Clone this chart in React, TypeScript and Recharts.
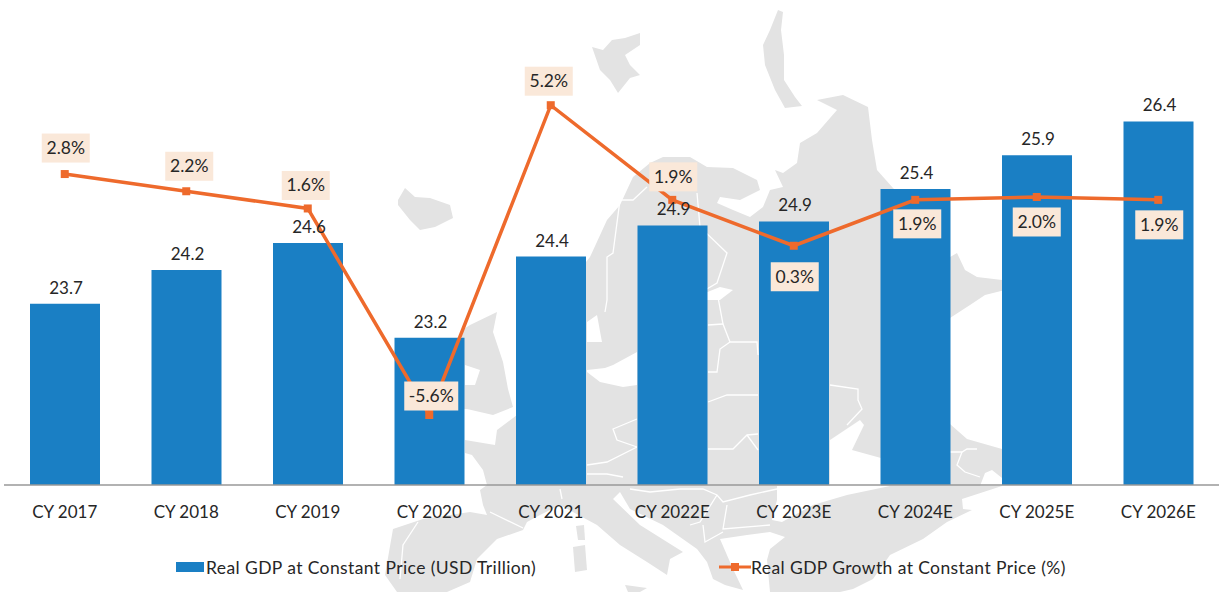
import { Bar, ComposedChart, LabelList, Legend, Line, XAxis, YAxis } from "recharts";

const years = ["CY 2017", "CY 2018", "CY 2019", "CY 2020", "CY 2021", "CY 2022E", "CY 2023E", "CY 2024E", "CY 2025E", "CY 2026E"];
const gdp = [23.7, 24.2, 24.6, 23.2, 24.4, 24.86, 24.92, 25.4, 25.9, 26.4];
const growth = [2.8, 2.2, 1.6, -5.6, 5.2, 1.9, 0.3, 1.9, 2.0, 1.9];

// where each growth label box sits relative to its point
const labelShiftY = [-26, -25, -23, -19, -24, -23, 31, 24, 25, 25];
const labelShiftX = [1, 3, -2, 2, -2, 1, 1, 2, 0, 1];

const rows = years.map((year, i) => ({ year, gdp: gdp[i], growth: growth[i] }));

const BLUE = "#1a7fc4";
const ORANGE = "#ee6a2c";
const TEXT = "#262626";
const FONT = "Lato, sans-serif";
const MAP = "#e3e3e3";

// background map, traced by eye
const land = [
  "560,300 586,262 590,257 607,220 620,205 633,177 650,163 663,157 690,157 707,167 733,168 757,180 760,190 740,200 720,197 717,203 733,210 750,217 763,207 770,190 783,187 775,170 783,173 797,163 800,143 817,133 837,110 817,100 843,95 868,107 872,140 877,170 893,188 905,200 945,260 957,253 965,270 977,277 1002,280 1005,290 985,295 970,305 950,318 940,330 940,420 950,424 967,439 1002,449 1002,486 962,499 963,509 972,510 947,522 923,539 890,555 873,579 853,589 840,592 770,592 767,560 770,549 785,537 770,532 747,535 720,539 733,569 743,590 725,585 713,579 707,562 697,549 663,525 630,509 620,492 613,499 640,525 683,552 670,559 667,575 647,562 620,545 597,525 560,505 540,515 527,522 523,530 497,539 477,559 470,582 447,592 397,592 385,575 393,529 423,519 470,512 487,515 483,505 480,490 487,485 483,470 472,455 465,453 465,440 495,445 497,430 517,415 520,300",
  "467,409 493,415 513,407 508,389 503,362 493,332 497,312 470,325 462,330 462,409",
  "398,200 405,188 415,197 430,198 450,205 453,218 435,227 420,230 410,220 398,205",
  "592,47 603,50 612,40 625,38 640,33 640,45 625,55 630,65 640,75 630,78 618,93 610,80 600,70",
  "778,10 783,12 781,30 784,55 784,80 795,97 802,106 785,108 775,90 765,65 763,45 770,30",
  "573,547 585,545 587,570 575,572",
  "576,526 584,525 585,540 578,540",
  "625,585 647,588 640,592 628,592",
];
const seas = [
  "587,322 597,315 602,342 587,342",
  "587,370 605,368 613,365 637,352 637,385 623,387 600,382 587,372",
  "700,295 720,287 733,290 720,300 707,300",
  "830,440 860,420 864,425 852,450 881,458 881,486 830,486",
  "777,486 890,486 847,495 813,505 782,522 772,520 777,500",
  "980,486 985,473 992,470 1002,478 1002,486",
  "465,365 480,370 475,385 465,385",
];
const borders = [
  "647,187 633,200 620,200 613,253 607,257 607,300 605,312",
  "697,193 700,227 727,253 717,283 700,293",
  "637,419 613,429 617,440 637,447",
  "587,465 607,462 637,447",
  "587,474 607,474 623,477",
  "717,292 723,324 730,342 757,342 758,355",
  "708,325 723,324",
  "730,342 720,349 717,372 708,372",
  "708,402 727,395 758,395",
  "708,449 733,449 747,435 758,434",
  "747,435 758,450",
  "830,385 858,389 858,400 862,409 847,425",
  "950,452 962,452 967,449 977,449",
  "962,452 957,465 965,472 980,477",
  "630,489 650,492 680,489 703,489 717,495 723,502 750,495 777,489",
  "690,525 700,522 717,495",
  "727,505 723,529 770,525",
  "703,525 705,542 723,532",
  "560,489 562,499",
  "490,512 523,528",
  "418,522 403,545 400,579",
];

function MapBackground() {
  return (
    <svg width={1225} height={592} style={{ position: "absolute", left: 0, top: 0, filter: "blur(0.6px)" }}>
      {land.map((p, i) => <polygon key={i} points={p} fill={MAP} />)}
      {seas.map((p, i) => <polygon key={i} points={p} fill="#fff" />)}
      {borders.map((p, i) => <polyline key={i} points={p} fill="none" stroke="#fff" strokeWidth={1.3} />)}
    </svg>
  );
}

function SquareDot({ cx, cy, index }: any) {
  return <rect key={index} x={cx - 4} y={cy - 4} width={8} height={8} fill={ORANGE} />;
}

function GrowthLabel({ x, y, value, index }: any) {
  const text = `${value.toFixed(1)}%`;
  const w = value < 0 ? 54 : 48;
  const cx = x + labelShiftX[index];
  const cy = y + labelShiftY[index];
  return (
    <g>
      <rect x={cx - w / 2} y={cy - 14.5} width={w} height={29} fill="#fae8d9" />
      <text x={cx} y={cy + 6} textAnchor="middle" fontSize={17.5} fontFamily={FONT} fill={TEXT}>{text}</text>
    </g>
  );
}

function GdpLabel({ x, y, width, value }: any) {
  return (
    <text x={x + width / 2 + 1} y={y - 10} textAnchor="middle" fontSize={17} fontFamily={FONT} fill={TEXT}>
      {value.toFixed(1)}
    </text>
  );
}

function LegendRow({ payload }: any) {
  const lefts = [172, 715];
  return (
    <div style={{ position: "relative", width: 1225, height: 30, top: -6, fontFamily: FONT, fontSize: 17.5, letterSpacing: 0.4, color: TEXT }}>
      {(payload ?? []).map((item: any, i: number) => (
        <div key={item.value} style={{ position: "absolute", left: lefts[i], top: 0, display: "flex", alignItems: "center", height: 22, whiteSpace: "nowrap" }}>
          {i === 0 ? (
            <svg width={30} height={10}><rect width={28} height={10} fill={BLUE} /></svg>
          ) : (
            <svg width={32} height={10}>
              <rect y={3.5} width={32} height={3} fill={ORANGE} />
              <rect x={12} y={1} width={8} height={8} fill={ORANGE} />
            </svg>
          )}
          <span>{item.value}</span>
        </div>
      ))}
    </div>
  );
}

export default function App() {
  return (
    <div style={{ position: "absolute", left: 0, top: 0, width: 1225, height: 592, background: "#fff", overflow: "hidden" }}>
      <MapBackground />
      <ComposedChart
        width={1225}
        height={592}
        data={rows}
        margin={{ top: 20, right: 6, bottom: 0, left: 4 }}
        style={{ position: "absolute", left: 0, top: 0 }}
      >
        <XAxis
          dataKey="year"
          height={77}
          tickLine={false}
          axisLine={{ stroke: "#999999", strokeWidth: 1.5 }}
          tick={{ fontSize: 17, fontFamily: FONT, fill: TEXT }}
          tickMargin={15}
          interval={0}
        />
        <YAxis yAxisId="gdp" hide domain={[21.02, 27.9]} />
        <YAxis yAxisId="growth" hide orientation="right" domain={[-8.04, 8.17]} />
        <Legend verticalAlign="bottom" height={30} itemSorter={null as any} content={<LegendRow />} />
        <Bar yAxisId="gdp" dataKey="gdp" name="Real GDP at Constant Price (USD Trillion)" fill={BLUE} barSize={70} isAnimationActive={false}>
          <LabelList dataKey="gdp" content={<GdpLabel />} />
        </Bar>
        <Line
          yAxisId="growth"
          dataKey="growth"
          name="Real GDP Growth at Constant Price (%)"
          stroke={ORANGE}
          strokeWidth={3.5}
          dot={<SquareDot />}
          activeDot={false}
          isAnimationActive={false}
        >
          <LabelList dataKey="growth" content={<GrowthLabel />} />
        </Line>
      </ComposedChart>
    </div>
  );
}
